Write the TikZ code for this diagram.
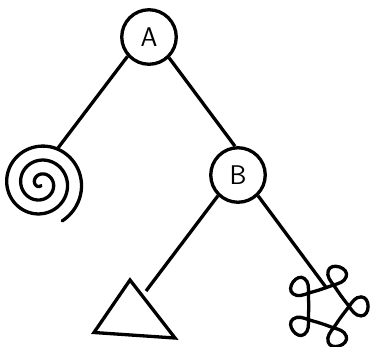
\documentclass[tikz,border=0pt]{standalone}
\begin{document}
\begin{tikzpicture}[x=1pt,y=-1pt,
  ink/.style={line width=3.3pt,black},
  treenode/.style={circle,draw,ink,minimum size=54.5pt,inner sep=0pt,font=\sffamily\fontsize{27}{27}\selectfont}]
\useasboundingbox (0,0) rectangle (370,346);
\node[treenode] (a) at (149,37) {A};
\node[treenode] (b) at (238,175) {B};
\coordinate (s) at (58,148);
\coordinate (t) at (146,291);
\coordinate (f) at (326.5,288);
\draw[ink] (a.222) -- (s);
\draw[ink] (a.-46) -- (b.96);
\draw[ink] (b.226) -- (t);
\draw[ink] (b.-46) -- (f);
\draw[ink,line cap=round] plot[domain=-60:1000,samples=260,smooth] ({40.6+(40.85-14*\x/360)*cos(\x)},{183.5-(40.85-14*\x/360)*sin(\x)});
\draw[ink,line join=miter] (130,280) -- (175,338) -- (94,332.5) -- cycle;
\foreach \r in {0,72,144,216,288}
  \draw[ink,line cap=round,shift={(326.6,306.4)},rotate=\r]
    (14.5,-10.5) .. controls (17,-7) and (20,-3.4) .. (22.5,0)
    .. controls (25.5,4.2) and (28.5,9.5) .. (34.5,9.5)
    .. controls (39,9.5) and (41.5,5) .. (41.5,0)
    .. controls (41.5,-5) and (39,-9.5) .. (34.5,-9.5)
    .. controls (28.5,-9.5) and (25.5,-4.2) .. (22.5,0)
    .. controls (20,3.4) and (17,7) .. (14.5,10.5);
\end{tikzpicture}
\end{document}
